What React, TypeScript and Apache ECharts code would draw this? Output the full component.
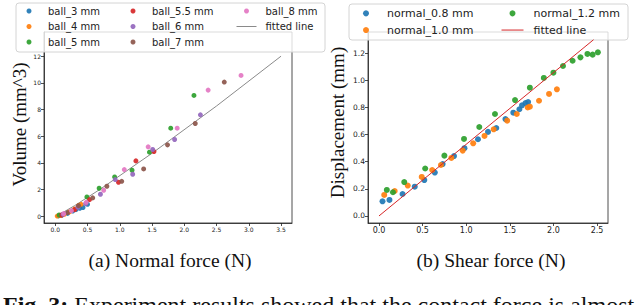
import React, { useEffect, useRef } from 'react';
import * as echarts from 'echarts';

// ---------- Panel (a): Volume vs Normal force ----------
const ball3: number[][] = [[0.05, 0.03], [0.1, 0.08], [0.19, 0.22], [0.27, 0.4], [0.32, 0.5], [0.38, 0.6], [0.43, 0.66], [0.5, 0.9]];
const ball4: number[][] = [[0.03, 0.02], [0.08, 0.06], [0.14, 0.15], [0.22, 0.33], [0.3, 0.55], [0.36, 0.8], [0.4, 0.9]];
const ball5: number[][] = [[0.06, 0.1], [0.49, 1.45], [0.68, 2.1], [0.92, 2.95], [1.19, 3.45], [1.46, 4.8], [1.79, 6.6], [2.15, 9.05]];
const ball55: number[][] = [[0.1, 0.1], [0.3, 0.5], [0.53, 1.25], [0.98, 2.55], [1.25, 4.15], [1.53, 4.85]];
const ball6: number[][] = [[0.12, 0.15], [0.35, 0.68], [0.47, 0.95], [0.7, 1.65], [0.93, 2.75], [1.2, 3.15], [1.51, 5.0], [1.85, 5.75], [2.25, 7.6]];
const ball7: number[][] = [[0.19, 0.28], [0.36, 0.8], [0.58, 1.38], [0.8, 2.25], [1.03, 2.62], [1.37, 3.55], [1.74, 5.35], [2.17, 6.95], [2.62, 10.05]];
const ball8: number[][] = [[0.13, 0.2], [0.25, 0.42], [0.48, 1.05], [0.75, 1.95], [1.07, 3.5], [1.44, 5.2], [1.89, 6.6], [2.37, 9.45], [2.88, 10.55]];
const fitLeft: number[][] = [[0.02, 0.04], [0.1, 0.24], [0.3, 0.8], [0.7, 2.04], [1.5, 4.72], [2.5, 8.26], [3.5, 11.99]];

const leftXTicks = [0, 0.5, 1, 1.5, 2, 2.5, 3, 3.5];
const leftYTicks = [0, 2, 4, 6, 8, 10, 12];

// ---------- Panel (b): Displacement vs Shear force ----------
const normal08: number[][] = [[0.04, 0.108], [0.12, 0.118], [0.27, 0.162], [0.41, 0.216], [0.52, 0.265], [0.64, 0.32], [0.73, 0.383], [0.86, 0.442], [0.98, 0.5], [1.135, 0.566], [1.25, 0.62], [1.345, 0.649], [1.45, 0.715], [1.54, 0.762], [1.61, 0.787], [1.64, 0.816], [1.68, 0.833], [1.71, 0.84]];
const normal10: number[][] = [[0.06, 0.155], [0.18, 0.184], [0.33, 0.224], [0.49, 0.288], [0.61, 0.339], [0.71, 0.376], [0.83, 0.428], [0.96, 0.482], [1.08, 0.536], [1.21, 0.59], [1.315, 0.639], [1.47, 0.703], [1.58, 0.752], [1.705, 0.8], [1.73, 0.806], [1.835, 0.85], [1.95, 0.9], [2.04, 0.934]];
const normal12: number[][] = [[0.09, 0.192], [0.16, 0.175], [0.29, 0.25], [0.53, 0.35], [0.75, 0.445], [0.975, 0.568], [1.15, 0.656], [1.33, 0.752], [1.56, 0.855], [1.73, 0.946], [1.89, 1.018], [2.0, 1.057], [2.11, 1.106], [2.22, 1.145], [2.31, 1.17], [2.39, 1.195], [2.45, 1.19], [2.51, 1.207]];
const fitRight: number[][] = [[0, 0], [2.46, 1.3]];

const rightXTicks = [0, 0.5, 1, 1.5, 2, 2.5];
const rightYTicks = [0, 0.2, 0.4, 0.6, 0.8, 1.0, 1.2];

const C = {
  blue: '#1f77b4', orange: '#ff7f0e', green: '#2ca02c', red: '#d62728',
  purple: '#9467bd', brown: '#8c564b', pink: '#e377c2', gray: '#8a8a8a',
};

const SANS = 'DejaVu Sans';
const SERIF = 'Liberation Serif';

function scatter(name: string, data: number[][], color: string, idx: number, size: number) {
  return {
    type: 'scatter', name, data, xAxisIndex: idx, yAxisIndex: idx,
    symbol: 'circle', symbolSize: size,
    itemStyle: { color, opacity: 0.92 },
    z: 2,
  };
}

function axisCommon(ticks: number[], fontSize: number, fmt: (v: number) => string) {
  return {
    type: 'value',
    splitLine: { show: false },
    axisLine: { show: true, onZero: false, lineStyle: { color: '#222', width: 0.8 } },
    axisTick: { show: true, inside: false, length: 3, customValues: ticks, lineStyle: { color: '#222', width: 0.8 } },
    axisLabel: { show: true, customValues: ticks, fontSize, fontFamily: SANS, color: '#222', margin: 3, formatter: fmt },
  };
}

export default function App() {
  const ref = useRef<HTMLDivElement>(null);
  useEffect(() => {
    if (!ref.current) return;
    const chart = echarts.init(ref.current, undefined, { renderer: 'svg' });
    const f1 = (v: number) => v.toFixed(1);
    const f0 = (v: number) => String(Math.round(v));
    const legendLeftText = {
      fontSize: 10, fontFamily: SANS, color: '#222', lineHeight: 15.5,
      rich: { t: { fontSize: 10, fontFamily: SANS, color: '#222', lineHeight: 15.5, padding: [0, 0, 0, 4] } },
    };
    const legendRightText = {
      fontSize: 11, fontFamily: SANS, color: '#222', lineHeight: 16.7,
      rich: { t: { fontSize: 11, fontFamily: SANS, color: '#222', lineHeight: 16.7, padding: [0, 0, 0, 5] } },
    };
    const fmtLegend = (name: string) => `{t|${name}}`;
    const legBase = { orient: 'vertical', padding: 0, itemGap: 0, z: 10, selectedMode: false, formatter: fmtLegend };
    const hiddenDot = { color: 'rgba(0,0,0,0)', borderWidth: 0, opacity: 0 };
    chart.setOption({
      animation: false,
      backgroundColor: '#ffffff',
      grid: [
        { left: 44, top: 32, width: 248, height: 191, show: true, borderColor: '#222', borderWidth: 0.8, backgroundColor: 'transparent' },
        { left: 368, top: 32, width: 240, height: 191, show: true, borderColor: '#222', borderWidth: 0.8, backgroundColor: 'transparent' },
      ],
      xAxis: [
        { ...axisCommon(leftXTicks, 6, f1), gridIndex: 0, min: -0.175, max: 3.67 },
        { ...axisCommon(rightXTicks, 8, f1), gridIndex: 1, min: -0.126, max: 2.626 },
      ],
      yAxis: [
        {
          ...axisCommon(leftYTicks, 6, f0), gridIndex: 0, min: -0.5, max: 13.8,
          name: 'Volume (mm^3)', nameLocation: 'middle', nameGap: 14,
          nameTextStyle: { fontFamily: SERIF, fontSize: 19, color: '#111', padding: [0, 0, 0, 6] },
        },
        {
          ...axisCommon(rightYTicks, 7.5, f1), gridIndex: 1, min: -0.052, max: 1.357,
          name: 'Displacement (mm)', nameLocation: 'middle', nameGap: 21,
          nameTextStyle: { fontFamily: SERIF, fontSize: 19, color: '#111', padding: [0, 0, 0, 10] },
        },
      ],
      legend: [
        // columns that hold only dots are laid out from the dot's left edge
        { ...legBase, left: 26.5, top: 3.25, itemWidth: 20, itemHeight: 5, textStyle: legendLeftText, data: ['ball_3 mm', 'ball_4 mm', 'ball_5 mm'] },
        { ...legBase, left: 130.5, top: 3.25, itemWidth: 20, itemHeight: 5, textStyle: legendLeftText, data: ['ball_5.5 mm', 'ball_6 mm', 'ball_7 mm'] },
        {
          ...legBase, left: 236, top: 3.25, itemWidth: 20, itemHeight: 5, textStyle: legendLeftText,
          data: ['ball_8 mm', { name: 'fitted line', itemStyle: hiddenDot, lineStyle: { color: C.gray, width: 1 } }],
        },
        { ...legBase, left: 363, top: 5, itemWidth: 22, itemHeight: 6, textStyle: legendRightText, data: ['normal_0.8 mm', 'normal_1.0 mm'] },
        {
          ...legBase, left: 501, top: 5, itemWidth: 22, itemHeight: 6, textStyle: legendRightText,
          data: ['normal_1.2 mm', { name: 'fitted line', itemStyle: hiddenDot, lineStyle: { color: C.red, width: 1 } }],
        },
      ],
      series: [
        scatter('ball_3 mm', ball3, C.blue, 0, 5),
        scatter('ball_4 mm', ball4, C.orange, 0, 5),
        scatter('ball_5 mm', ball5, C.green, 0, 5),
        scatter('ball_5.5 mm', ball55, C.red, 0, 5),
        scatter('ball_6 mm', ball6, C.purple, 0, 5),
        scatter('ball_7 mm', ball7, C.brown, 0, 5),
        scatter('ball_8 mm', ball8, C.pink, 0, 5),
        {
          type: 'line', name: 'fitted line', data: fitLeft, xAxisIndex: 0, yAxisIndex: 0,
          symbol: 'none', showSymbol: false, lineStyle: { color: C.gray, width: 1 }, itemStyle: { color: C.gray }, z: 1,
        },
        scatter('normal_0.8 mm', normal08, C.blue, 1, 6),
        scatter('normal_1.0 mm', normal10, C.orange, 1, 6),
        scatter('normal_1.2 mm', normal12, C.green, 1, 6),
        {
          type: 'line', name: 'fitted line', data: fitRight, xAxisIndex: 1, yAxisIndex: 1,
          symbol: 'none', showSymbol: false, lineStyle: { color: C.red, width: 1 }, itemStyle: { color: C.red }, z: 3,
        },
      ],
      graphic: [
        {
          type: 'rect', z: 3, silent: true,
          shape: { x: 16, y: 3, width: 309, height: 49, r: 3 },
          style: { fill: 'rgba(255,255,255,0.8)', stroke: '#d4d4d4', lineWidth: 1 },
        },
        {
          type: 'rect', z: 3, silent: true,
          shape: { x: 349, y: 4, width: 279, height: 36, r: 3 },
          style: { fill: 'rgba(255,255,255,0.8)', stroke: '#d4d4d4', lineWidth: 1 },
        },
        {
          type: 'text', x: 170, y: 260, z: 5,
          style: {
            text: '(a) Normal force (N)', fontSize: 19.5, fontFamily: SERIF, fill: '#111',
            textAlign: 'center', textVerticalAlign: 'middle', align: 'center', verticalAlign: 'middle',
          },
        },
        {
          type: 'text', x: 491, y: 260, z: 5,
          style: {
            text: '(b) Shear force (N)', fontSize: 19.5, fontFamily: SERIF, fill: '#111',
            textAlign: 'center', textVerticalAlign: 'middle', align: 'center', verticalAlign: 'middle',
          },
        },
        {
          type: 'text', x: 3, y: 305, z: 5,
          style: {
            text: '{b|Fig. 3:} Experiment results showed that the contact force is almost',
            fontSize: 24, fontFamily: SERIF, fill: '#111',
            textAlign: 'left', textVerticalAlign: 'middle', align: 'left', verticalAlign: 'middle',
            rich: { b: { fontSize: 24, fontFamily: SERIF, fontWeight: 'bold', fill: '#111' } },
          },
        },
      ],
    });
    return () => chart.dispose();
  }, []);
  return (
    <div
      ref={ref}
      style={{ position: 'fixed', left: 0, top: 0, width: 640, height: 305, background: '#fff' }}
    />
  );
}
